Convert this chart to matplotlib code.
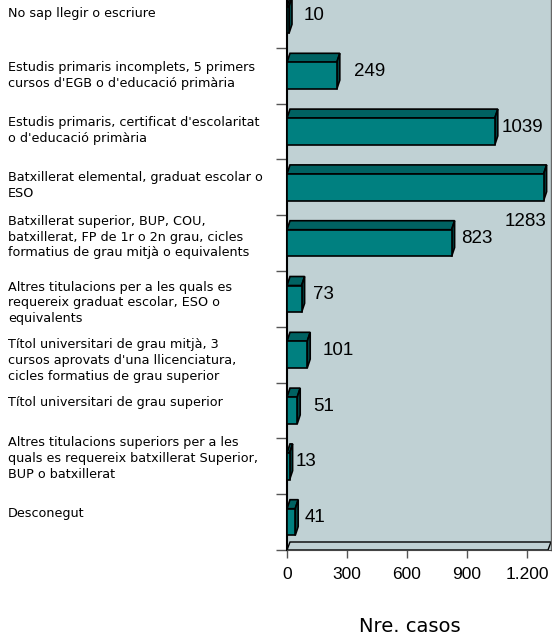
import matplotlib
matplotlib.use("Agg")
import matplotlib.pyplot as plt
from matplotlib.patches import Polygon, Rectangle
from matplotlib.transforms import blended_transform_factory

categories = [
    "No sap llegir o escriure",
    "Estudis primaris incomplets, 5 primers\ncursos d'EGB o d'educació primària",
    "Estudis primaris, certificat d'escolaritat\no d'educació primària",
    "Batxillerat elemental, graduat escolar o\nESO",
    "Batxillerat superior, BUP, COU,\nbatxillerat, FP de 1r o 2n grau, cicles\nformatius de grau mitjà o equivalents",
    "Altres titulacions per a les quals es\nrequereix graduat escolar, ESO o\nequivalents",
    "Títol universitari de grau mitjà, 3\ncursos aprovats d'una llicenciatura,\ncicles formatius de grau superior",
    "Títol universitari de grau superior",
    "Altres titulacions superiors per a les\nquals es requereix batxillerat Superior,\nBUP o batxillerat",
    "Desconegut",
]
values = [10, 249, 1039, 1283, 823, 73, 101, 51, 13, 41]
xticks = [0, 300, 600, 900, 1200]
xtick_labels = ["0", "300", "600", "900", "1.200"]
xlabel = "Nre. casos"

FRONT = "#008080"
TOP = "#006262"
SIDE = "#004545"
PANEL = "#c0d1d4"
W, H = 552, 636

# pixel geometry of the plot area (top is cut off by the image edge)
X0, X1 = 287, 551
Y_TOP, Y_BOT = -8, 550

fig = plt.figure(figsize=(W / 100, H / 100), dpi=100)
ax = fig.add_axes([X0 / W, 1 - Y_BOT / H, (X1 - X0) / W, (Y_BOT - Y_TOP) / H])
n = len(values)
ax.set_xlim(0, 1320)
ax.set_ylim(-0.5, n - 0.5)
ax.set_facecolor(PANEL)

px_x = 1320 / (X1 - X0)
px_y = n / (Y_BOT - Y_TOP)
dx = 3 * px_x
dy = 9 * px_y
half = 0.24

# floor
fl = 8 * px_y
ax.add_patch(Polygon([(0, -0.5), (1320 - dx, -0.5), (1320, -0.5 + fl), (dx, -0.5 + fl)],
                     closed=True, facecolor=PANEL, edgecolor="black", lw=1.0, zorder=2))

label_dx = [12, 14, 4, 0, 7, 8, 12, 13, 3, 6]
for i, (v, lab) in enumerate(zip(values, categories)):
    c = n - 1 - i
    y0, y1 = c - half, c + half
    ax.add_patch(Polygon([(0, y1), (v, y1), (v + dx, y1 + dy), (dx, y1 + dy)], closed=True,
                         facecolor=TOP, edgecolor="black", lw=1.2, zorder=3))
    ax.add_patch(Polygon([(v, y0), (v + dx, y0 + dy), (v + dx, y1 + dy), (v, y1)], closed=True,
                         facecolor=SIDE, edgecolor="black", lw=1.2, zorder=3))
    ax.add_patch(Rectangle((0, y0), v, y1 - y0, facecolor=FRONT, edgecolor="black",
                           lw=1.2, zorder=4))
    if v > 1200:
        ax.annotate(str(v), (v + dx, c - 0.62), ha="right", va="center", fontsize=13.5,
                    family="Liberation Sans", zorder=5)
    else:
        ax.annotate(str(v), (v + dx, c + 0.08), xytext=(label_dx[i], 0),
                    textcoords="offset pixels", ha="left", va="center", fontsize=13.5,
                    family="Liberation Sans", zorder=5)

# category labels sit a few pixels off the slot centres, as in the source
label_off = [-6, 0, -1, -2, -6, 4, 6, -8, -8, -9]
tr = blended_transform_factory(fig.transFigure, ax.transData)
for i, lab in enumerate(categories):
    ax.text(8 / W, n - 1 - i - label_off[i] * px_y, lab, transform=tr, ha="left",
            va="center", fontsize=9.2, family="DejaVu Sans", linespacing=1.28)

ax.set_yticks([k - 0.5 for k in range(n + 1)])
ax.set_yticklabels([])
ax.set_xticks(xticks)
ax.set_xticklabels(xtick_labels, family="Liberation Sans", fontsize=12.5)
ax.tick_params(axis="y", length=8, width=1, color="#555555")
ax.tick_params(axis="x", length=6, width=1, color="#555555", pad=6)

ax.spines["top"].set_visible(False)
ax.spines["left"].set_color("black")
ax.spines["left"].set_linewidth(1.5)
ax.spines["bottom"].set_color("#444444")
ax.spines["right"].set_color("#666666")
ax.spines["right"].set_linewidth(1.0)

fig.text(410 / W, 1 - 626 / H, xlabel, ha="center", va="center", fontsize=14,
         family="DejaVu Sans")

fig.savefig("out.png", dpi=100, facecolor="white")
